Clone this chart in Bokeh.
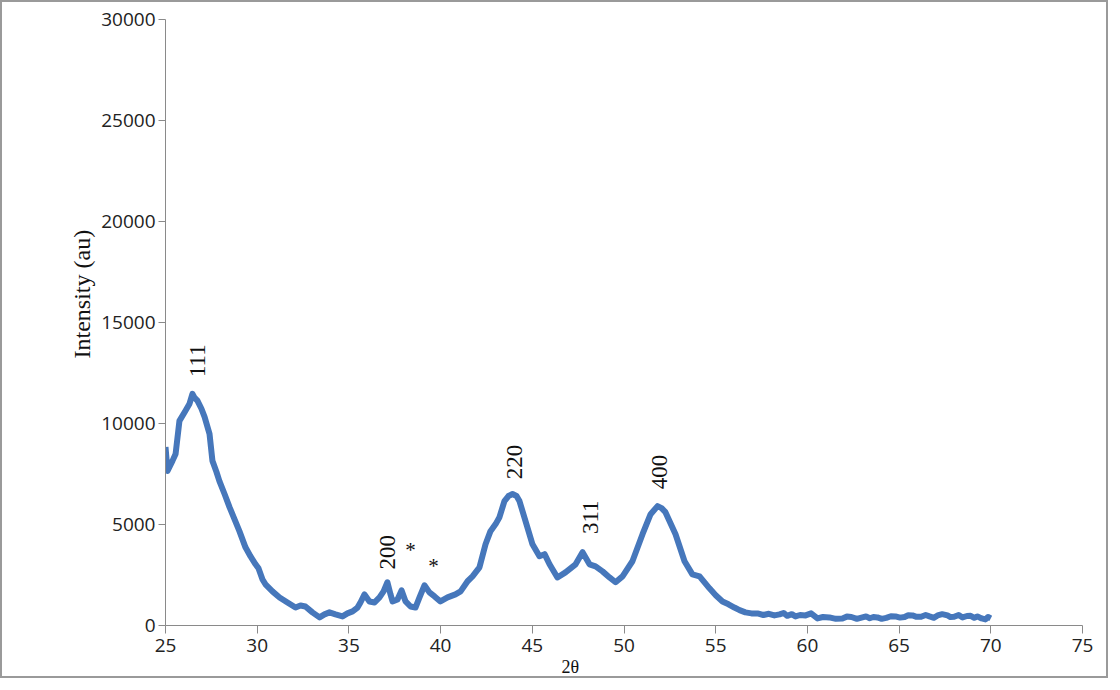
from bokeh.plotting import figure
from bokeh.models import Title, FixedTicker, ColumnDataSource
from bokeh.core.properties import value
from bokeh.embed import file_html
from bokeh.resources import INLINE
import math

two_theta = [25.00, 25.11, 25.38, 25.55, 25.76, 26.09, 26.31, 26.47, 26.58, 26.74, 26.96, 27.13,
             27.40, 27.56, 27.78, 27.94, 28.22, 28.49, 28.76, 29.03, 29.36, 29.63, 29.91, 30.07,
             30.29, 30.45, 30.83, 31.22, 31.65, 32.09, 32.36, 32.63, 33.01, 33.40, 33.67, 33.94,
             34.27, 34.65, 34.92, 35.20, 35.47, 35.63, 35.85, 36.12, 36.40, 36.67, 36.89, 37.10,
             37.27, 37.38, 37.65, 37.87, 38.09, 38.36, 38.63, 38.85, 39.12, 39.39, 39.67, 39.99,
             40.38, 40.81, 41.09, 41.47, 41.74, 42.12, 42.45, 42.72, 43.00, 43.21, 43.48, 43.70,
             43.92, 44.14, 44.30, 44.63, 45.01, 45.39, 45.67, 45.94, 46.37, 46.81, 47.36, 47.74,
             48.12, 48.45, 48.83, 49.21, 49.54, 49.92, 50.46, 51.01, 51.45, 51.83, 52.05, 52.26,
             52.81, 53.30, 53.73, 54.12, 54.66, 55.00, 55.37, 55.70, 56.02, 56.30, 56.62, 56.95,
             57.28, 57.60, 57.90, 58.20, 58.48, 58.70, 58.90, 59.15, 59.35, 59.60, 59.90, 60.20,
             60.55, 60.85, 61.20, 61.55, 61.91, 62.15, 62.40, 62.70, 63.00, 63.20, 63.40, 63.60,
             63.82, 64.05, 64.30, 64.55, 64.80, 65.05, 65.30, 65.50, 65.73, 65.95, 66.20, 66.45,
             66.66, 66.90, 67.10, 67.35, 67.64, 67.80, 68.00, 68.25, 68.46, 68.70, 68.90, 69.10,
             69.27, 69.50, 69.71, 69.85, 70.00]
intensity = [8840, 7650, 8150, 8490, 10130, 10630, 10980, 11470, 11280, 11130, 10730, 10330,
             9490, 8150, 7600, 7150, 6510, 5860, 5270, 4670, 3870, 3430, 3030, 2830,
             2280, 2040, 1690, 1390, 1140, 890, 990, 940, 650, 400, 550, 650,
             550, 450, 600, 700, 890, 1140, 1540, 1190, 1140, 1390, 1690, 2140,
             1540, 1190, 1290, 1740, 1190, 940, 890, 1390, 1990, 1640, 1440, 1190,
             1390, 1540, 1690, 2190, 2430, 2880, 4020, 4670, 5020, 5360, 6160, 6410,
             6510, 6410, 6160, 5170, 4020, 3430, 3530, 3030, 2380, 2630, 3030, 3630,
             3030, 2930, 2680, 2380, 2140, 2430, 3180, 4520, 5510, 5910, 5810, 5610,
             4520, 3180, 2530, 2430, 1840, 1500, 1190, 1050, 890, 760, 650, 600,
             600, 520, 580, 500, 550, 620, 480, 560, 450, 520, 500, 600,
             350, 420, 400, 330, 350, 440, 420, 330, 400, 450, 360, 420,
             400, 330, 380, 460, 450, 390, 420, 510, 500, 430, 430, 520,
             450, 380, 500, 560, 500, 420, 430, 520, 400, 470, 480, 380,
             450, 350, 300, 420, 350]

peak_labels = ["111", "200", "220", "311", "400"]
peak_x = [26.74, 37.10, 44.03, 48.17, 51.94]
peak_y = [13110, 3630, 8100, 5360, 7600]

star_labels = ["*", "*"]
star_x = [38.36, 39.61]
star_y = [3730, 2930]

x_ticks = [25, 30, 35, 40, 45, 50, 55, 60, 65, 70, 75]
y_ticks = [0, 5000, 10000, 15000, 20000, 25000, 30000]

p = figure(width=1108, height=678, output_backend="svg", toolbar_location=None,
           x_range=(25, 75), y_range=(0, 30000),
           min_border_left=163, min_border_top=17, min_border_right=28, min_border_bottom=55,
           styles={"border": "2px solid #9a9a9a"})
p.outline_line_color = None
p.xgrid.visible = False
p.ygrid.visible = False

p.line(two_theta, intensity, line_color="#4677BB", line_width=6, line_join="round")

src = ColumnDataSource(dict(x=peak_x, y=peak_y, t=peak_labels))
p.text(x="x", y="y", text="t", source=src, angle=math.pi / 2,
       text_align="center", text_baseline="middle",
       text_font=value("Liberation Serif"), text_font_size="23px", text_color="#111111")
src2 = ColumnDataSource(dict(x=star_x, y=star_y, t=star_labels))
p.text(x="x", y="y", text="t", source=src2,
       text_align="center", text_baseline="middle",
       text_font=value("Liberation Serif"), text_font_size="21px", text_color="#111111")

for ax in (p.xaxis[0], p.yaxis[0]):
    ax.axis_line_color = "#8a8a8a"
    ax.major_tick_line_color = "#8a8a8a"
    ax.minor_tick_line_color = None
    ax.major_tick_in = 0
    ax.major_label_text_font = "Open Sans"
    ax.major_label_text_font_size = "19px"
    ax.major_label_text_color = "#222222"

p.xaxis.ticker = FixedTicker(ticks=x_ticks)
p.yaxis.ticker = FixedTicker(ticks=y_ticks)
p.xaxis.major_tick_out = 8
p.yaxis.major_tick_out = 7
p.xaxis.major_label_standoff = 5
p.yaxis.major_label_standoff = 3

p.add_layout(Title(text="Intensity (au)", align="left", offset=267, standoff=8,
                   text_font="Liberation Serif", text_font_style="normal",
                   text_font_size="24px", text_color="#111111"), "left")

p.add_layout(Title(text="2θ", align="left", offset=396, standoff=0,
                   text_font="Liberation Serif", text_font_style="normal",
                   text_font_size="18px", text_color="#111111"), "below")

open("out.html", "w").write(file_html(p, INLINE))
